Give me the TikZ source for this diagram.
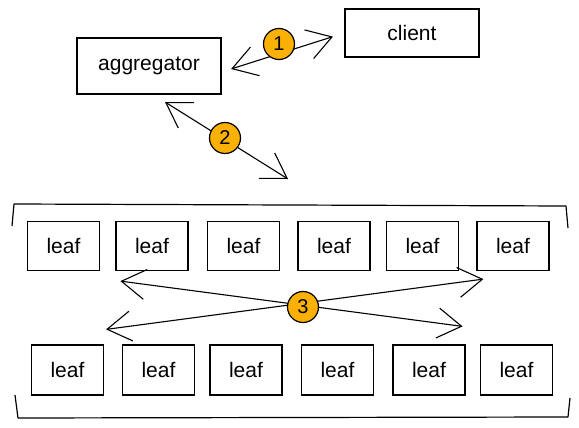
\documentclass[tikz,border=0pt]{standalone}
\usepackage{fontspec}
\setmainfont{Liberation Sans}
\usepackage{xcolor}
\usepackage{tikz}
\usetikzlibrary{arrows.meta, positioning}
\definecolor{badgeyellow}{RGB}{250, 176, 5}

\tikzset{
  box/.style={draw, line width=1.2pt, minimum width=72pt, minimum height=49pt,
    inner sep=0pt, font=\fontsize{21}{24}\selectfont},
  badge/.style={circle, draw, line width=1.2pt, fill=badgeyellow, minimum size=31pt,
    inner sep=0pt, font=\fontsize{20}{22}\selectfont},
  biarrow/.style={line width=1.1pt,
    {Straight Barb[length=24pt, width=30pt]}-{Straight Barb[length=24pt, width=30pt]}},
  brace/.style={line width=1.2pt, line join=round}
}

\begin{document}
\begin{tikzpicture}[x=1pt, y=-1pt]
  \useasboundingbox (0,0) rectangle (579,428);
  % aggregator and client
  \node[box, minimum width=144pt, minimum height=56pt] (agg) at (149,66) {aggregator};
  \node[box, minimum width=134pt, minimum height=48pt] (client) at (412,33) {client};
  % leaves, top row and bottom row
  \foreach \x [count=\i] in {63.5,152,243.5,334,422.5,513}
    \node[box] (t\i) at (\x,246) {leaf};
  \foreach \x [count=\i] in {67.5,158.5,246,337.5,429,516.5}
    \node[box, minimum height=50pt] (b\i) at (\x,370) {leaf};
  % brackets round the leaves
  \draw[brace] (12,226) -- (14,204) -- (566,206) -- (568,228);
  \draw[brace] (15,395) -- (18,418) -- (568,417) -- (570,398);
  % 1: aggregator <-> client
  \coordinate (a1) at ([yshift=-6pt]agg.east);
  \draw[biarrow, shorten <=10pt, shorten >=12pt] (a1) -- (client.west);
  \node[badge] (n1) at (279,44) {1};
  % 2: aggregator <-> leaves
  \coordinate (a2s) at (165,102);
  \coordinate (a2e) at (288,179);
  \draw[biarrow] (a2s) -- (a2e);
  \node[badge] (n2) at (225,138) {2};
  % 3: leaves <-> leaves
  \coordinate (c1) at ([shift={(5,10)}]t2.south west);
  \coordinate (c2) at ([shift={(-3,-18)}]b5.north east);
  \coordinate (c3) at ([shift={(2,-15)}]b1.north east);
  \coordinate (c4) at ([shift={(7,8)}]t6.south west);
  \draw[biarrow] (c1) -- (c2);
  \draw[biarrow] (c3) -- (c4);
  \node[badge] (n3) at (303,307) {3};
\end{tikzpicture}
\end{document}
